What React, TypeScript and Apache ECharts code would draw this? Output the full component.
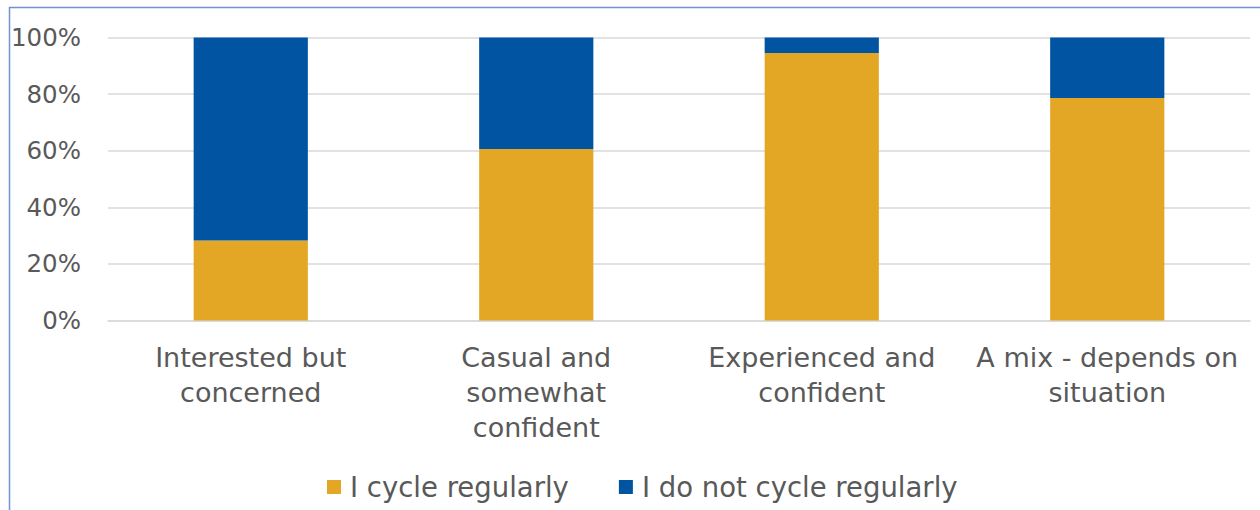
import React, { useEffect, useRef } from "react";
import * as echarts from "echarts";

const categories = [
  "Interested but\nconcerned",
  "Casual and\nsomewhat\nconfident",
  "Experienced and\nconfident",
  "A mix - depends on\nsituation",
];
const cycleRegularly = [28.3, 60.6, 94.5, 78.6];
const notCycleRegularly = [71.7, 39.4, 5.5, 21.4];
const seriesNames = ["I cycle regularly", "I do not cycle regularly"];

const FONT = "DejaVu Sans";
const TEXT_COLOR = "#595959";

export default function App() {
  const ref = useRef<HTMLDivElement>(null);
  useEffect(() => {
    if (!ref.current) return;
    const chart = echarts.init(ref.current, undefined, { renderer: "svg" });
    chart.setOption({
      animation: false,
      backgroundColor: "#ffffff",
      textStyle: { fontFamily: FONT },
      grid: { left: 108, right: 10, top: 37.5, bottom: 189.5, containLabel: false },
      legend: {
        left: 327,
        top: 472,
        padding: 0,
        itemWidth: 14,
        itemHeight: 14,
        itemGap: 50,
        icon: "rect",
        textStyle: {
          fontFamily: FONT,
          fontSize: 27.5,
          lineHeight: 30,
          color: TEXT_COLOR,
          padding: [0, 0, 0, 4],
        },
        data: seriesNames,
      },
      xAxis: {
        type: "category",
        data: categories,
        axisLine: { lineStyle: { color: "#d9d9d9", width: 1.5 } },
        axisTick: { show: false },
        axisLabel: {
          interval: 0,
          fontFamily: FONT,
          fontSize: 27,
          color: TEXT_COLOR,
          lineHeight: 35,
          margin: 19,
        },
      },
      yAxis: {
        type: "value",
        min: 0,
        max: 100,
        interval: 20,
        axisLine: { show: false },
        axisTick: { show: false },
        splitLine: { lineStyle: { color: "#d9d9d9", width: 1.5 } },
        axisLabel: {
          formatter: "{value}%",
          fontFamily: FONT,
          fontSize: 24.5,
          color: TEXT_COLOR,
          margin: 27,
        },
      },
      series: [
        {
          name: seriesNames[0],
          type: "bar",
          stack: "total",
          barWidth: "40%",
          data: cycleRegularly,
          itemStyle: { color: "#E3A725" },
        },
        {
          name: seriesNames[1],
          type: "bar",
          stack: "total",
          barWidth: "40%",
          data: notCycleRegularly,
          itemStyle: { color: "#0054A2" },
        },
      ],
      graphic: [
        {
          type: "line",
          shape: { x1: 9, y1: 7.5, x2: 1260, y2: 7.5 },
          style: { stroke: "#6f94d2", lineWidth: 1.5 },
        },
        {
          type: "line",
          shape: { x1: 9.5, y1: 7, x2: 9.5, y2: 510 },
          style: { stroke: "#6f94d2", lineWidth: 1.5 },
        },
      ],
    });
    return () => chart.dispose();
  }, []);
  return (
    <div style={{ position: "fixed", left: 0, top: 0, width: 1260, height: 510 }}>
      <div ref={ref} style={{ width: 1260, height: 510 }} />
    </div>
  );
}
